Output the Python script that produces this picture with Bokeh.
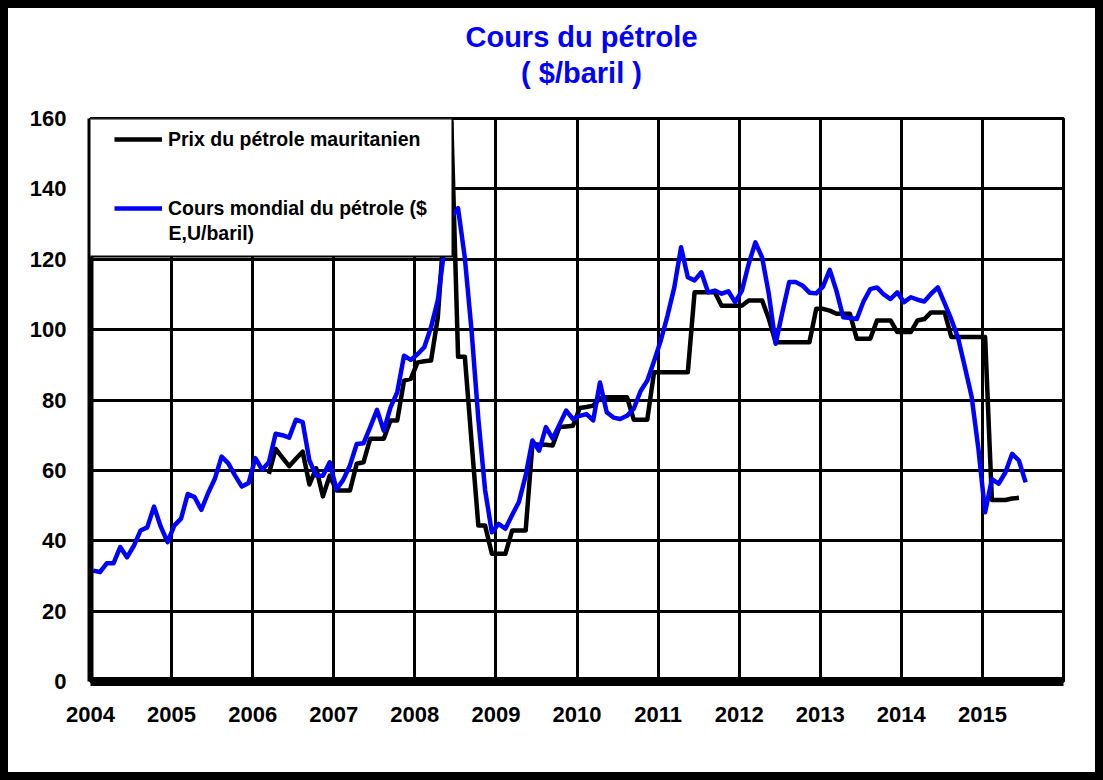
from bokeh.plotting import figure
from bokeh.layouts import column
from bokeh.models import Range1d, FixedTicker, Legend, LegendItem, Label, BoxAnnotation
from bokeh.embed import file_html
from bokeh.resources import INLINE

# ---------------- texts ----------------
TITLE = "Cours du pétrole"
SUBTITLE = "( $/baril )"
LABEL_MAUR = "Prix du pétrole mauritanien"
LABEL_WORLD_1 = "Cours mondial du pétrole ($"
LABEL_WORLD_2 = "E,U/baril)"

# ---------------- axes ----------------
year_ticks = [2004, 2005, 2006, 2007, 2008, 2009, 2010, 2011, 2012, 2013, 2014, 2015, 2016]
year_labels = ["2004", "2005", "2006", "2007", "2008", "2009", "2010", "2011", "2012", "2013", "2014", "2015", ""]
y_ticks = [0, 20, 40, 60, 80, 100, 120, 140, 160]

# ---------------- world oil price (monthly, $/barrel) ----------------
world_2004 = [31.5, 31.1, 33.6, 33.6, 38.2, 35.3, 38.5, 42.9, 43.8, 49.7, 44.0, 39.6]
world_2005 = [44.3, 46.3, 53.3, 52.4, 48.8, 53.5, 57.6, 63.9, 62.0, 58.5, 55.4, 56.4]
world_2006 = [63.5, 60.2, 62.3, 70.4, 70.0, 69.3, 74.4, 73.7, 62.8, 58.5, 58.5, 62.3]
world_2007 = [54.6, 57.3, 61.4, 67.5, 67.7, 72.3, 77.2, 71.3, 77.9, 82.2, 92.6, 91.4]
world_2008 = [93.0, 95.0, 100.7, 108.3, 123.5, 132.0, 134.5, 120.4, 99.6, 74.6, 54.4, 42.4]
world_2009 = [44.8, 43.4, 47.3, 51.0, 58.5, 68.5, 65.6, 72.3, 69.0, 73.0, 77.0, 74.6]
world_2010 = [75.5, 76.0, 74.2, 85.0, 76.5, 75.0, 74.6, 75.5, 77.5, 82.5, 85.5, 91.0]
world_2011 = [96.9, 104.0, 112.0, 123.4, 114.9, 114.0, 116.3, 110.6, 111.1, 110.2, 110.9, 107.8]
world_2012 = [111.0, 118.6, 124.8, 120.5, 110.0, 96.0, 105.0, 113.5, 113.5, 112.5, 110.5, 110.3]
world_2013 = [112.2, 117.0, 111.0, 103.5, 103.3, 103.0, 108.0, 111.5, 112.0, 110.0, 108.7, 110.6]
world_2014 = [107.8, 109.2, 108.5, 108.0, 110.2, 112.0, 107.5, 102.9, 97.6, 89.4, 81.0, 66.2]
world_2015 = [48.1, 57.5, 56.2, 59.4, 64.7, 62.8, 56.6]
world_start_month = 0          # January 2004

# ---------------- Mauritanian oil price (monthly, $/barrel) ----------------
maur_2006 = [59.0, 66.1, 63.6, 61.2, 63.3, 65.3, 56.0, 60.6, 52.6, 58.5]   # from March
maur_2007 = [54.3, 54.3, 54.3, 61.9, 62.3, 69.0, 69.0, 69.0, 74.2, 74.2, 85.5, 86.0]
maur_2008 = [90.7, 91.0, 91.2, 103.5, 131.0, 159.0, 92.3, 92.3, 68.0, 44.3, 44.3, 36.3]
maur_2009 = [36.3, 36.3, 42.9, 42.9, 42.9, 67.5, 67.3, 67.3, 67.1, 72.3, 72.5, 72.7]
maur_2010 = [77.7, 78.0, 78.4, 80.5, 80.8, 80.8, 80.8, 80.8, 74.4, 74.4, 74.4, 87.9]
maur_2011 = [87.9, 87.9, 87.9, 87.9, 87.9, 110.6, 110.6, 110.6, 110.6, 106.8, 106.8, 106.8]
maur_2012 = [106.8, 108.3, 108.3, 108.3, 103.0, 96.4, 96.4, 96.4, 96.4, 96.4, 96.4, 105.9]
maur_2013 = [105.9, 105.4, 104.5, 104.5, 104.5, 97.4, 97.4, 97.4, 102.6, 102.6, 102.6, 99.3]
maur_2014 = [99.3, 99.3, 102.6, 103.0, 104.9, 104.9, 104.9, 97.9, 97.9, 97.9, 97.9, 97.9]
maur_2015 = [97.9, 51.6, 51.6, 51.6, 52.0, 52.2]
maur_start_month = 26          # March 2006

world = (world_2004 + world_2005 + world_2006 + world_2007 + world_2008 + world_2009 +
         world_2010 + world_2011 + world_2012 + world_2013 + world_2014 + world_2015)
maur = (maur_2006 + maur_2007 + maur_2008 + maur_2009 + maur_2010 + maur_2011 +
        maur_2012 + maur_2013 + maur_2014 + maur_2015)

BASE_YEAR = 2004
POINT_SHIFT = 0.4  # where in the month slot each point sits


def month_x(start, n):
    return [BASE_YEAR + (start + i + POINT_SHIFT) / 12.0 for i in range(n)]


x_world = month_x(world_start_month, len(world))
x_maur = month_x(maur_start_month, len(maur))

# ---------------- sizes ----------------
INNER_W = 1087
TITLE_H = 98
MAIN_H = 666
BLUE = "#0000FF"
TICK_FONT = "Liberation Sans"
TEXT_FONT = "Liberation Sans"

# ---------------- title band ----------------
tfig = figure(width=INNER_W, height=TITLE_H, output_backend="svg", toolbar_location=None,
              x_range=Range1d(0, 1), y_range=Range1d(0, 1), title=None,
              x_axis_type=None, y_axis_type=None, min_border=0)
tfig.outline_line_color = None
tfig.background_fill_color = "white"
tfig.border_fill_color = "white"
tfig.add_layout(Label(x=491, y=70, x_units="screen", y_units="screen", text=TITLE,
                      text_font=TEXT_FONT, text_font_style="bold", text_font_size="29px",
                      text_color=BLUE, text_baseline="alphabetic", text_align="center"))
tfig.add_layout(Label(x=491, y=34, x_units="screen", y_units="screen", text=SUBTITLE,
                      text_font=TEXT_FONT, text_font_style="bold", text_font_size="29px",
                      text_color=BLUE, text_baseline="alphabetic", text_align="center"))

# ---------------- main chart ----------------
p = figure(width=INNER_W, height=MAIN_H, output_backend="svg", toolbar_location=None,
           x_range=Range1d(year_ticks[0], year_ticks[-1]),
           y_range=Range1d(y_ticks[0], y_ticks[-1]), title=None,
           min_border_left=82, min_border_right=32, min_border_top=12, min_border_bottom=91)
p.background_fill_color = "white"
p.border_fill_color = "white"

p.xaxis.ticker = FixedTicker(ticks=year_ticks)
p.xaxis.major_label_overrides = {t: lab for t, lab in zip(year_ticks, year_labels)}
p.yaxis.ticker = FixedTicker(ticks=y_ticks)
for ax in (p.xaxis, p.yaxis):
    ax.axis_line_color = "black"
    ax.major_tick_line_color = None
    ax.minor_tick_line_color = None
    ax.major_tick_out = 0
    ax.major_tick_in = 0
    ax.major_label_text_font = TICK_FONT
    ax.major_label_text_font_style = "bold"
    ax.major_label_text_font_size = "22px"
    ax.major_label_text_color = "black"
p.xaxis.axis_line_width = 9
p.yaxis.axis_line_width = 6
p.xaxis.major_label_standoff = 25
p.yaxis.major_label_standoff = 24

for g in (p.xgrid, p.ygrid):
    g.grid_line_color = "black"
    g.grid_line_width = 3
    g.grid_line_alpha = 1.0
p.xgrid.ticker = FixedTicker(ticks=year_ticks)
p.ygrid.ticker = FixedTicker(ticks=y_ticks)

p.outline_line_color = "black"
p.outline_line_width = 3
p.outline_line_alpha = 1.0

r_maur = p.line(x_maur, maur, line_color="black", line_width=4.5, line_join="round")
r_world = p.line(x_world, world, line_color=BLUE, line_width=4.5, line_join="round")

box = BoxAnnotation(left=-3, right=362, top=563, bottom=425,
                    left_units="screen", right_units="screen", top_units="screen", bottom_units="screen",
                    fill_color="white", fill_alpha=1.0, line_color="black", line_width=2, line_alpha=1.0)
p.add_layout(box)

legend = Legend(items=[LegendItem(label=LABEL_MAUR, renderers=[r_maur]),
                       LegendItem(label=LABEL_WORLD_1, renderers=[r_world])],
                location=(14, 451), padding=10, spacing=45, margin=0,
                glyph_width=48, glyph_height=24, label_height=24, label_standoff=6,
                label_text_font=TEXT_FONT, label_text_font_style="bold",
                label_text_font_size="19.5px", label_text_color="black",
                background_fill_alpha=0.0, border_line_alpha=0.0)
p.add_layout(legend)

p.add_layout(Label(x=78, y=449, x_units="screen", y_units="screen", text=LABEL_WORLD_2,
                   text_font=TEXT_FONT, text_font_style="bold", text_font_size="19.5px",
                   text_color="black", text_baseline="middle", text_align="left"))

page = column(tfig, p)
page.styles = {"border": "8px solid black", "box-sizing": "content-box", "background-color": "white"}

open("out.html", "w").write(file_html(page, INLINE))
